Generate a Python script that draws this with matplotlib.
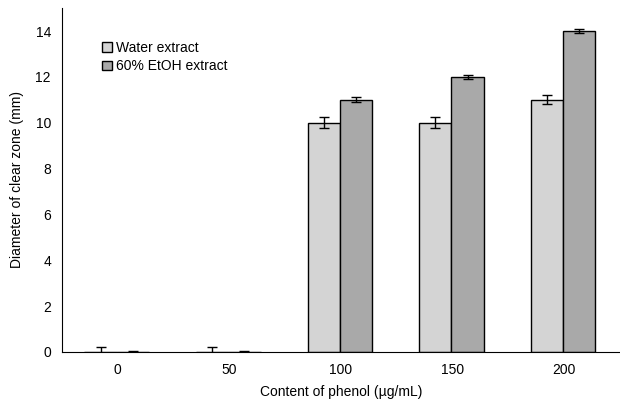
import numpy as np
import matplotlib.pyplot as plt

plt.rcParams['font.family'] = ['Liberation Sans', 'DejaVu Sans']

# data
phenol = ['0', '50', '100', '150', '200']
water = [0, 0, 10, 10, 11]
water_err = [0.2, 0.2, 0.25, 0.25, 0.2]
etoh = [0, 0, 11, 12, 14]
etoh_err = [0.05, 0.05, 0.1, 0.1, 0.1]

fig = plt.figure(figsize=(6.2, 4.04), dpi=100)
ax = fig.add_axes([0.1, 0.129, 0.9, 0.851])

x = np.arange(len(phenol))
w = 0.29
ax.bar(x - w / 2 - 0.01, water, w, yerr=water_err, color='#d4d4d4', edgecolor='black',
       linewidth=1, capsize=3.5, error_kw={'elinewidth': 1, 'capthick': 1},
       label='Water extract')
ax.bar(x + w / 2 - 0.01, etoh, w, yerr=etoh_err, color='#a9a9a9', edgecolor='black',
       linewidth=1, capsize=3.5, error_kw={'elinewidth': 1, 'capthick': 1},
       label='60% EtOH extract')

ax.set_xlim(-0.5, 4.5)
ax.set_ylim(0, 15)
ax.set_yticks(range(0, 15, 2))
ax.set_xticks(x)
ax.set_xticklabels(phenol)
ax.tick_params(length=0, labelsize=10, pad=8)
ax.spines['top'].set_visible(False)
ax.spines['right'].set_visible(False)
ax.set_xlabel('Content of phenol (µg/mL)', fontsize=10, labelpad=6)
ax.set_ylabel('Diameter of clear zone (mm)', fontsize=10, labelpad=8)
ax.legend(loc='upper left', bbox_to_anchor=(0.05, 0.94), frameon=False, fontsize=10,
          handlelength=0.7, handleheight=0.7, handletextpad=0.3, labelspacing=0.3)

plt.savefig('out.png', dpi=100)
